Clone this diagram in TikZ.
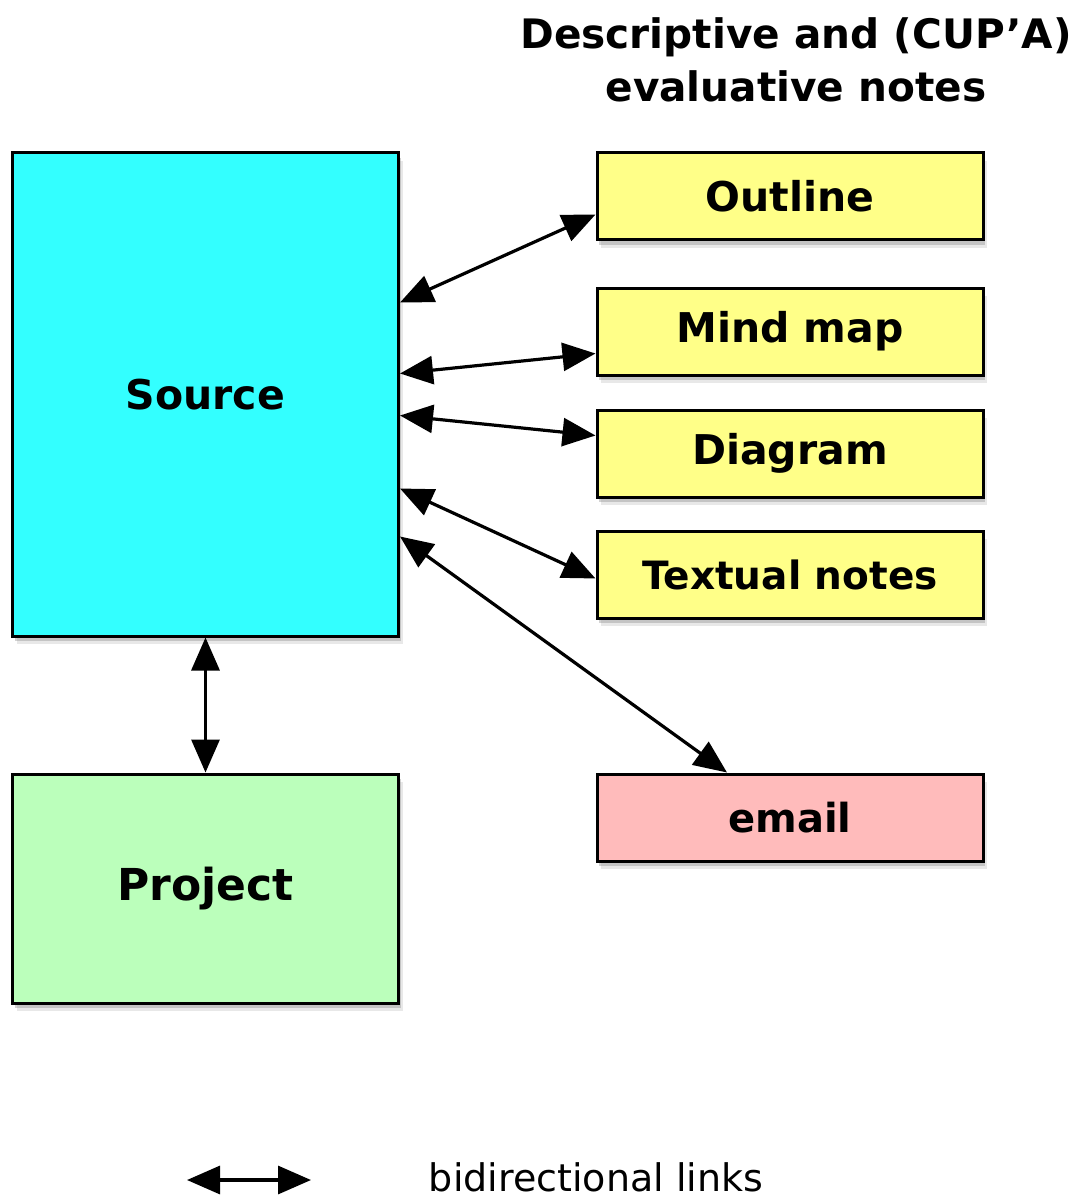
\documentclass[tikz,border=0pt]{standalone}
\usepackage{fontspec}
\setmainfont{DejaVu Sans}
\usetikzlibrary{arrows.meta,shadows}

\definecolor{srccyan}{RGB}{51,255,255}
\definecolor{projgreen}{RGB}{187,255,187}
\definecolor{noteyellow}{RGB}{255,255,136}
\definecolor{mailpink}{RGB}{255,187,187}

\begin{document}
\begin{tikzpicture}[x=0.5pt, y=-0.5pt,
  box/.style = {draw, line width=1.5pt, inner sep=0pt, minimum width=193pt, minimum height=43.5pt,
    font=\fontsize{20.5}{24}\selectfont\bfseries,
    drop shadow={shadow xshift=2pt, shadow yshift=-4pt, opacity=0.18},
    drop shadow={shadow xshift=1.2pt, shadow yshift=-2.5pt, opacity=0.35}},
  note/.style = {box, fill=noteyellow},
  link/.style = {line width=1.6pt, {Triangle[length=16.5pt,width=14pt]}-{Triangle[length=16.5pt,width=14pt]}}]
\useasboundingbox (0,0) rectangle (1081,1198);

\node[align=center, anchor=north, inner sep=0pt, font=\fontsize{20.3}{26.5}\selectfont\bfseries] (title) at (796,17) {Descriptive and (CUP’A)\\evaluative notes};

\node[box, fill=srccyan, minimum height=241.5pt] (source) at (205.5,394.5) {Source};
\node[box, fill=projgreen, minimum height=114.5pt, font=\fontsize{22}{26}\selectfont\bfseries] (project) at (205.5,888.5) {Project};

\node[note] (outline) at (790,196.5) {Outline};
\node[note] (mindmap) at (790,331.5) {Mind map};
\node[note] (diagram) at (790,453.5) {Diagram};
\node[note, font=\fontsize{19.5}{24}\selectfont\bfseries] (textual) at (790,574.5) {Textual notes};
\node[box, fill=mailpink, font=\fontsize{20}{24}\selectfont\bfseries] (email) at (790,817.5) {email};

% links out of the source
\draw[link] ([yshift=46pt]source.east) -- ([yshift=-9pt]outline.west);
\draw[link] ([yshift=10.5pt]source.east) -- ([yshift=-11pt]mindmap.west);
\draw[link] ([yshift=-10.5pt]source.east) -- ([yshift=9pt]diagram.west);
\draw[link] ([yshift=-47pt]source.east) -- ([yshift=-2pt]textual.west);
\draw[link] ([yshift=-71pt]source.east) -- ([xshift=-31.5pt]email.north);
\draw[link] (source) -- (project);

% key
\coordinate (keyA) at (187,1180);
\coordinate (keyB) at (311,1180);
\draw[link] (keyA) -- (keyB);
\node[inner sep=0pt, font=\fontsize{19}{23}\selectfont] (key) at (596,1177) {bidirectional links};
\end{tikzpicture}
\end{document}
